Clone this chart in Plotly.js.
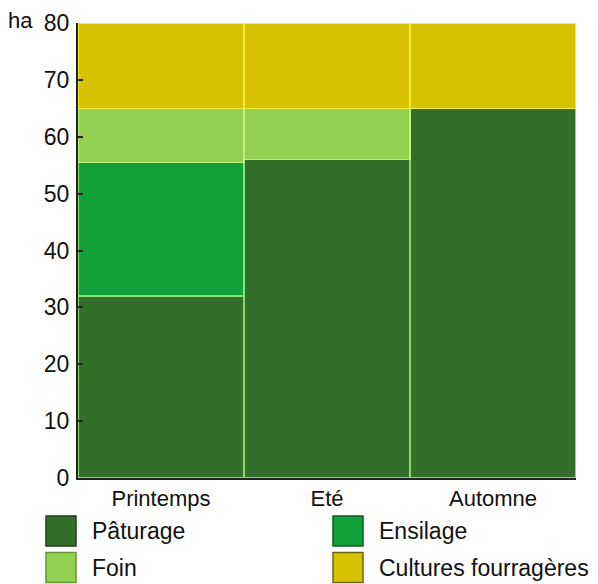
<!DOCTYPE html>
<html>
<head>
<meta charset="utf-8">
<script src="https://cdn.plot.ly/plotly-3.0.1.min.js"></script>
<style>html,body{margin:0;padding:0;background:#fff}#chart{width:598px;height:584px}</style>
</head>
<body>
<div id="chart"></div>
<script>
var categories = ["Printemps", "Eté", "Automne"];
var seriesNames = ["Pâturage", "Ensilage", "Foin", "Cultures fourragères"];
var paturage = [32, 56, 65];
var ensilage = [23.5, 0, 0];
var foin = [9.5, 9, 0];
var cultures = [15, 15, 15];
var yTicks = [0, 10, 20, 30, 40, 50, 60, 70, 80];
var unitLabel = "ha";

var fills = ["#336e2b", "#12a03a", "#92d152", "#d6c200"];
var edges = ["#8fd86a", "#8fe070", "#c0f080", "#f4ec3c"];
var boxEdges = ["#1f3f1a", "#0d5a22", "#5f9a35", "#6e6410"];
var values = [paturage, ensilage, foin, cultures];

var traces = values.map(function (v, i) {
  return {
    type: "bar",
    x: categories,
    y: v,
    name: seriesNames[i],
    marker: { color: fills[i], line: { color: edges[i], width: 1.5 } },
    showlegend: false,
    hoverinfo: "skip"
  };
});

// plot area in pixels: x 78..576, y 23..478
function px(x) { return (x - 78) / 498; }
function py(y) { return (478 - y) / 455; }

var shapes = [];
var annotations = [{
  xref: "paper", yref: "paper", x: px(6), y: py(20), xanchor: "left", yanchor: "middle",
  text: unitLabel, showarrow: false, font: { size: 22, color: "#111" }
}];
// legend: 2 columns x 2 rows (order: Pâturage, Ensilage / Foin, Cultures)
var legPos = [[0, 0], [1, 0], [0, 1], [1, 1]];
var colX = [46, 333];
var rowY = [531, 567.5];
seriesNames.forEach(function (n, i) {
  var cx = colX[legPos[i][0]], cy = rowY[legPos[i][1]];
  shapes.push({
    type: "rect", xref: "paper", yref: "paper",
    x0: px(cx), x1: px(cx + 30), y0: py(cy + 15), y1: py(cy - 15),
    fillcolor: fills[i], line: { color: boxEdges[i], width: 1.5 }
  });
  annotations.push({
    xref: "paper", yref: "paper", x: px(cx + 44), y: py(cy), xanchor: "left", yanchor: "middle",
    text: n, showarrow: false, font: { size: 23, color: "#111" }
  });
});

var layout = {
  width: 598, height: 584,
  margin: { l: 78, r: 22, t: 23, b: 106 },
  paper_bgcolor: "#fff", plot_bgcolor: "#fff",
  barmode: "stack", bargap: 0,
  font: { family: "Liberation Sans, Arial, sans-serif", color: "#111" },
  xaxis: {
    showline: true, linecolor: "#222", linewidth: 2, ticks: "", showgrid: false,
    tickfont: { size: 22 }, zeroline: false
  },
  yaxis: {
    range: [0, 80], tickvals: yTicks, ticks: "inside", ticklen: 5, tickwidth: 2, tickcolor: "#222",
    showline: true, linecolor: "#222", linewidth: 2, showgrid: false, zeroline: false,
    tickfont: { size: 23 }, ticklabelstandoff: 2
  },
  shapes: shapes,
  annotations: annotations
};

Plotly.newPlot("chart", traces, layout, { staticPlot: true });
</script>
</body>
</html>
